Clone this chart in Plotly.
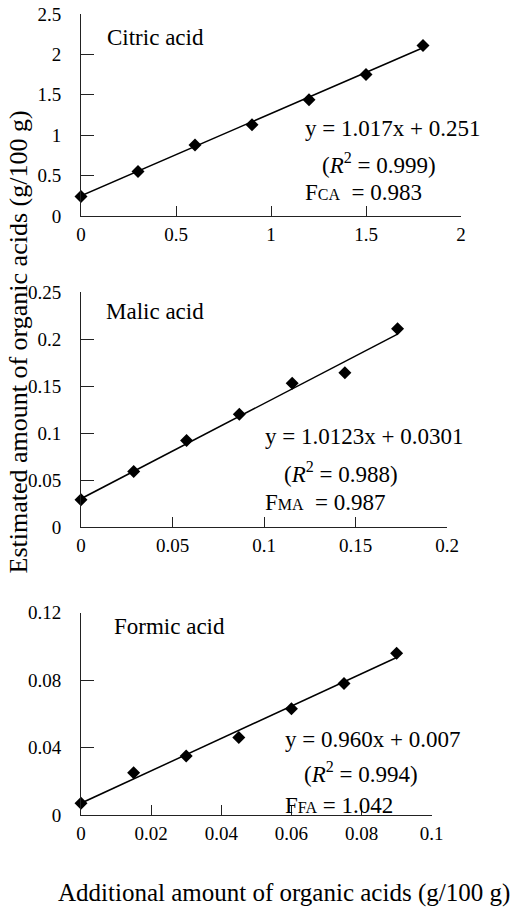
import plotly.graph_objects as go

# ---- data ----
citric_x = [0, 0.3, 0.6, 0.9, 1.2, 1.5, 1.8]
citric_y = [0.24, 0.55, 0.88, 1.13, 1.44, 1.75, 2.11]
malic_x = [0, 0.0288, 0.0577, 0.0865, 0.1154, 0.1442, 0.173]
malic_y = [0.029, 0.059, 0.092, 0.120, 0.153, 0.164, 0.211]
formic_x = [0, 0.015, 0.03, 0.045, 0.06, 0.075, 0.09]
formic_y = [0.007, 0.025, 0.035, 0.046, 0.063, 0.078, 0.096]

slopes = [1.017, 1.0123, 0.960]
intercepts = [0.251, 0.0301, 0.007]

citric_xticks = [0, 0.5, 1, 1.5, 2]
citric_xtext = ["0", "0.5", "1", "1.5", "2"]
citric_yticks = [0, 0.5, 1, 1.5, 2, 2.5]
citric_ytext = ["0", "0.5", "1", "1.5", "2", "2.5"]
malic_xticks = [0, 0.05, 0.1, 0.15, 0.2]
malic_xtext = ["0", "0.05", "0.1", "0.15", "0.2"]
malic_yticks = [0, 0.05, 0.1, 0.15, 0.2, 0.25]
malic_ytext = ["0", "0.05", "0.1", "0.15", "0.2", "0.25"]
formic_xticks = [0, 0.02, 0.04, 0.06, 0.08, 0.1]
formic_xtext = ["0", "0.02", "0.04", "0.06", "0.08", "0.1"]
formic_yticks = [0, 0.04, 0.08, 0.12]
formic_ytext = ["0", "0.04", "0.08", "0.12"]

FONT = "Liberation Serif, Times New Roman, serif"
W, H = 515, 908

fig = go.Figure()

panels = [
    dict(x=citric_x, y=citric_y, xr=[0, 2], yr=[0, 2.5], xt=citric_xticks, xtt=citric_xtext,
         yt=citric_yticks, ytt=citric_ytext, xdom=[81, 461], ydom=[14, 216]),
    dict(x=malic_x, y=malic_y, xr=[0, 0.2], yr=[0, 0.25], xt=malic_xticks, xtt=malic_xtext,
         yt=malic_yticks, ytt=malic_ytext, xdom=[81, 447], ydom=[292, 527]),
    dict(x=formic_x, y=formic_y, xr=[0, 0.1], yr=[0, 0.12], xt=formic_xticks, xtt=formic_xtext,
         yt=formic_yticks, ytt=formic_ytext, xdom=[81, 431.7], ydom=[612.7, 815]),
]

for i, p in enumerate(panels):
    n = "" if i == 0 else str(i + 1)
    xa, ya = "x" + n, "y" + n
    x0, x1 = p["x"][0], p["x"][-1]
    fig.add_trace(go.Scatter(x=[x0, x1], y=[slopes[i] * x0 + intercepts[i], slopes[i] * x1 + intercepts[i]],
                             mode="lines", line=dict(color="black", width=1.5),
                             xaxis=xa, yaxis=ya, showlegend=False, hoverinfo="skip", cliponaxis=False))
    fig.add_trace(go.Scatter(x=p["x"], y=p["y"], mode="markers",
                             marker=dict(symbol="diamond", size=10, color="black"),
                             xaxis=xa, yaxis=ya, showlegend=False, cliponaxis=False))
    axis_common = dict(showgrid=False, zeroline=False, showline=True, linecolor="#222", linewidth=1,
                       ticks="inside", tickcolor="#222", tickwidth=1, automargin=False,
                       tickfont=dict(family=FONT, size=19, color="black"))
    fig.layout["xaxis" + n] = dict(axis_common, range=p["xr"], tickmode="array", tickvals=p["xt"],
                                   ticktext=p["xtt"], ticklen=10, ticklabelstandoff=1,
                                   domain=[p["xdom"][0] / W, p["xdom"][1] / W], anchor=ya)
    fig.layout["yaxis" + n] = dict(axis_common, range=p["yr"], tickmode="array", tickvals=p["yt"],
                                   ticktext=p["ytt"], ticklen=13, ticklabelstandoff=15,
                                   domain=[1 - p["ydom"][1] / H, 1 - p["ydom"][0] / H], anchor=xa)

ann_font = dict(family=FONT, size=23, color="black")
texts = [
    # (axis index, x, y, text)
    (0, 0.126, 2.215, "Citric acid"),
    (0, 1.168, 1.089, "y = 1.017x + 0.251"),
    (0, 1.258, 0.656, "(<i>R</i><sup>2</sup> = 0.999)"),
    (0, 1.168, 0.285, "F<span style='font-size:16px'>CA</span>  = 0.983"),
    (1, 0.0126, 0.229, "Malic acid"),
    (1, 0.0995, 0.0961, "y = 1.0123x + 0.0301"),
    (1, 0.1098, 0.0578, "(<i>R</i><sup>2</sup> = 0.988)"),
    (1, 0.0995, 0.0266, "F<span style='font-size:16px'>MA</span>  = 0.987"),
    (2, 0.00884, 0.1117, "Formic acid"),
    (2, 0.0576, 0.0446, "y = 0.960x + 0.007"),
    (2, 0.0630, 0.0250, "(<i>R</i><sup>2</sup> = 0.994)"),
    (2, 0.0576, 0.0059, "F<span style='font-size:16px'>FA</span> = 1.042"),
]
for idx, x, y, t in texts:
    n = "" if idx == 0 else str(idx + 1)
    fig.add_annotation(x=x, y=y, xref="x" + n, yref="y" + n, text=t, showarrow=False,
                       xanchor="left", yanchor="middle", font=ann_font)

fig.add_annotation(x=283.5 / W, y=1 - 893 / H, xref="paper", yref="paper",
                   text="Additional amount of organic acids (g/100 g)", showarrow=False,
                   xanchor="center", yanchor="middle", font=dict(family=FONT, size=25, color="black"))
fig.add_annotation(x=18 / W, y=1 - 342.5 / H, xref="paper", yref="paper",
                   text="Estimated amount of organic acids (g/100 g)", showarrow=False, textangle=-90,
                   xanchor="center", yanchor="middle", font=dict(family=FONT, size=26, color="black"))

fig.update_layout(width=W, height=H, margin=dict(l=0, r=0, t=0, b=0, autoexpand=False),
                  paper_bgcolor="white", plot_bgcolor="white")

fig.write_html("out.html", config={"displayModeBar": False},
               post_script="document.body.style.margin='0';document.body.style.padding='0';"
                           "document.body.style.overflow='hidden';")
